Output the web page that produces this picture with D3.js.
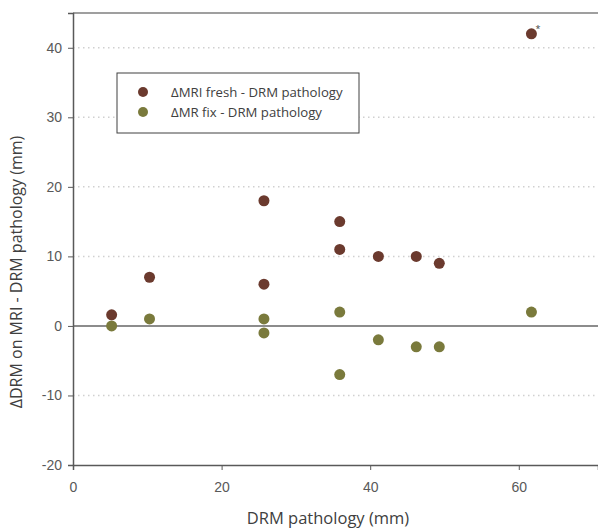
<!DOCTYPE html>
<head>
  <meta charset="utf-8">
  <style>
    body { margin: 0; background: #fff; }
    svg { font-family: "Open Sans", sans-serif; }
    .axis text { fill: #595959; font-size: 14px; }
  </style>
  <title>DRM on MRI vs pathology</title>
</head>

<body>
  <script src="https://cdn.jsdelivr.net/npm/d3@7"></script>

  <script>
    // data
    var pathologyX = [5.2, 10.3, 25.7, 25.7, 35.9, 35.9, 41.1, 46.2, 49.3, 61.7];
    var freshDiff = [1.6, 7, 18, 6, 15, 11, 10, 10, 9, 42];
    var fixX = [5.2, 10.3, 25.7, 25.7, 35.9, 35.9, 41.1, 46.2, 49.3, 61.7];
    var fixDiff = [0, 1, 1, -1, 2, -7, -2, -3, -3, 2];
    var xTicks = [0, 20, 40, 60];
    var yTicks = [-20, -10, 0, 10, 20, 30, 40];
    var gridTicks = [-10, 10, 20, 30, 40];
    var seriesNames = ["\u0394MRI fresh - DRM pathology", "\u0394MR fix - DRM pathology"];
    var seriesColors = ["#6b3a2e", "#7a7a3c"];

    // dimensions
    var width = 598;
    var height = 529;
    var plotLeft = 73, plotRight = 598, plotTop = 13, plotBottom = 465;

    var x = d3.scaleLinear().domain([0, 70.66]).range([plotLeft, plotRight]);
    var y = d3.scaleLinear().domain([-20, 45]).range([plotBottom, plotTop]);

    var svg = d3.select("body").append("svg")
      .attr("width", width)
      .attr("height", height);

    // dotted gridlines
    svg.selectAll(".grid").data(gridTicks).enter().append("line")
      .attr("class", "grid")
      .attr("x1", plotLeft).attr("x2", plotRight)
      .attr("y1", function(d) { return y(d); })
      .attr("y2", function(d) { return y(d); })
      .attr("stroke", "#d0d0d0")
      .attr("stroke-width", 1.5)
      .attr("stroke-dasharray", "1.5,3.5");

    // zero line
    svg.append("line")
      .attr("x1", plotLeft).attr("x2", plotRight)
      .attr("y1", y(0)).attr("y2", y(0))
      .attr("stroke", "#8c8c8c")
      .attr("stroke-width", 2);

    // top frame line
    svg.append("line")
      .attr("x1", plotLeft).attr("x2", plotRight)
      .attr("y1", plotTop).attr("y2", plotTop)
      .attr("stroke", "#7f7f7f")
      .attr("stroke-width", 1.5);

    // plain hyphen for negatives, like the original
    var plain = function(d) { return String(d); };

    // x axis
    var xAxis = d3.axisBottom(x).tickValues(xTicks).tickSize(5).tickPadding(12).tickFormat(plain);
    var gx = svg.append("g")
      .attr("class", "axis")
      .attr("transform", "translate(0," + plotBottom + ")")
      .call(xAxis);
    gx.select(".domain").attr("stroke", "#595959").attr("stroke-width", 1.5);
    gx.selectAll(".tick line").attr("stroke", "#595959");

    // y axis
    var yAxis = d3.axisLeft(y).tickValues(yTicks).tickSize(5).tickPadding(6).tickFormat(plain);
    var gy = svg.append("g")
      .attr("class", "axis")
      .attr("transform", "translate(" + plotLeft + ",0)")
      .call(yAxis);
    gy.select(".domain").attr("stroke", "#595959").attr("stroke-width", 1.5);
    gy.selectAll(".tick line").attr("stroke", "#595959");

    // axis titles
    svg.append("text")
      .attr("x", 328).attr("y", 524)
      .attr("text-anchor", "middle")
      .style("font-size", "16.5px")
      .attr("fill", "#404040")
      .text("DRM pathology (mm)");

    svg.append("text")
      .attr("transform", "translate(22," + 272 + ") rotate(-90)")
      .attr("text-anchor", "middle")
      .style("font-size", "16px")
      .attr("fill", "#404040")
      .text("\u0394DRM on MRI - DRM pathology (mm)");

    // points
    svg.selectAll(".fix").data(fixDiff).enter().append("circle")
      .attr("class", "fix")
      .attr("cx", function(d, i) { return x(fixX[i]); })
      .attr("cy", function(d) { return y(d); })
      .attr("r", 5.5)
      .attr("fill", seriesColors[1]);

    svg.selectAll(".fresh").data(freshDiff).enter().append("circle")
      .attr("class", "fresh")
      .attr("cx", function(d, i) { return x(pathologyX[i]); })
      .attr("cy", function(d) { return y(d); })
      .attr("r", 5.5)
      .attr("fill", seriesColors[0]);

    // small mark next to the outlier
    svg.append("text")
      .attr("x", x(pathologyX[9]) + 4)
      .attr("y", y(freshDiff[9]) - 2)
      .style("font-size", "9px")
      .attr("fill", "#404040")
      .text("*");

    // legend
    var legend = svg.append("g").attr("transform", "translate(117,73)");
    legend.append("rect")
      .attr("width", 242).attr("height", 60)
      .attr("fill", "#fff")
      .attr("stroke", "#404040")
      .attr("stroke-width", 1);

    seriesNames.forEach(function(name, i) {
      legend.append("circle")
        .attr("cx", 26).attr("cy", 19 + i * 20)
        .attr("r", 5)
        .attr("fill", seriesColors[i]);
      legend.append("text")
        .attr("x", 54).attr("y", 19 + i * 20)
        .attr("dy", "0.35em")
        .style("font-size", "13.2px")
        .attr("fill", "#404040")
        .text(name);
    });
  </script>
</body>
